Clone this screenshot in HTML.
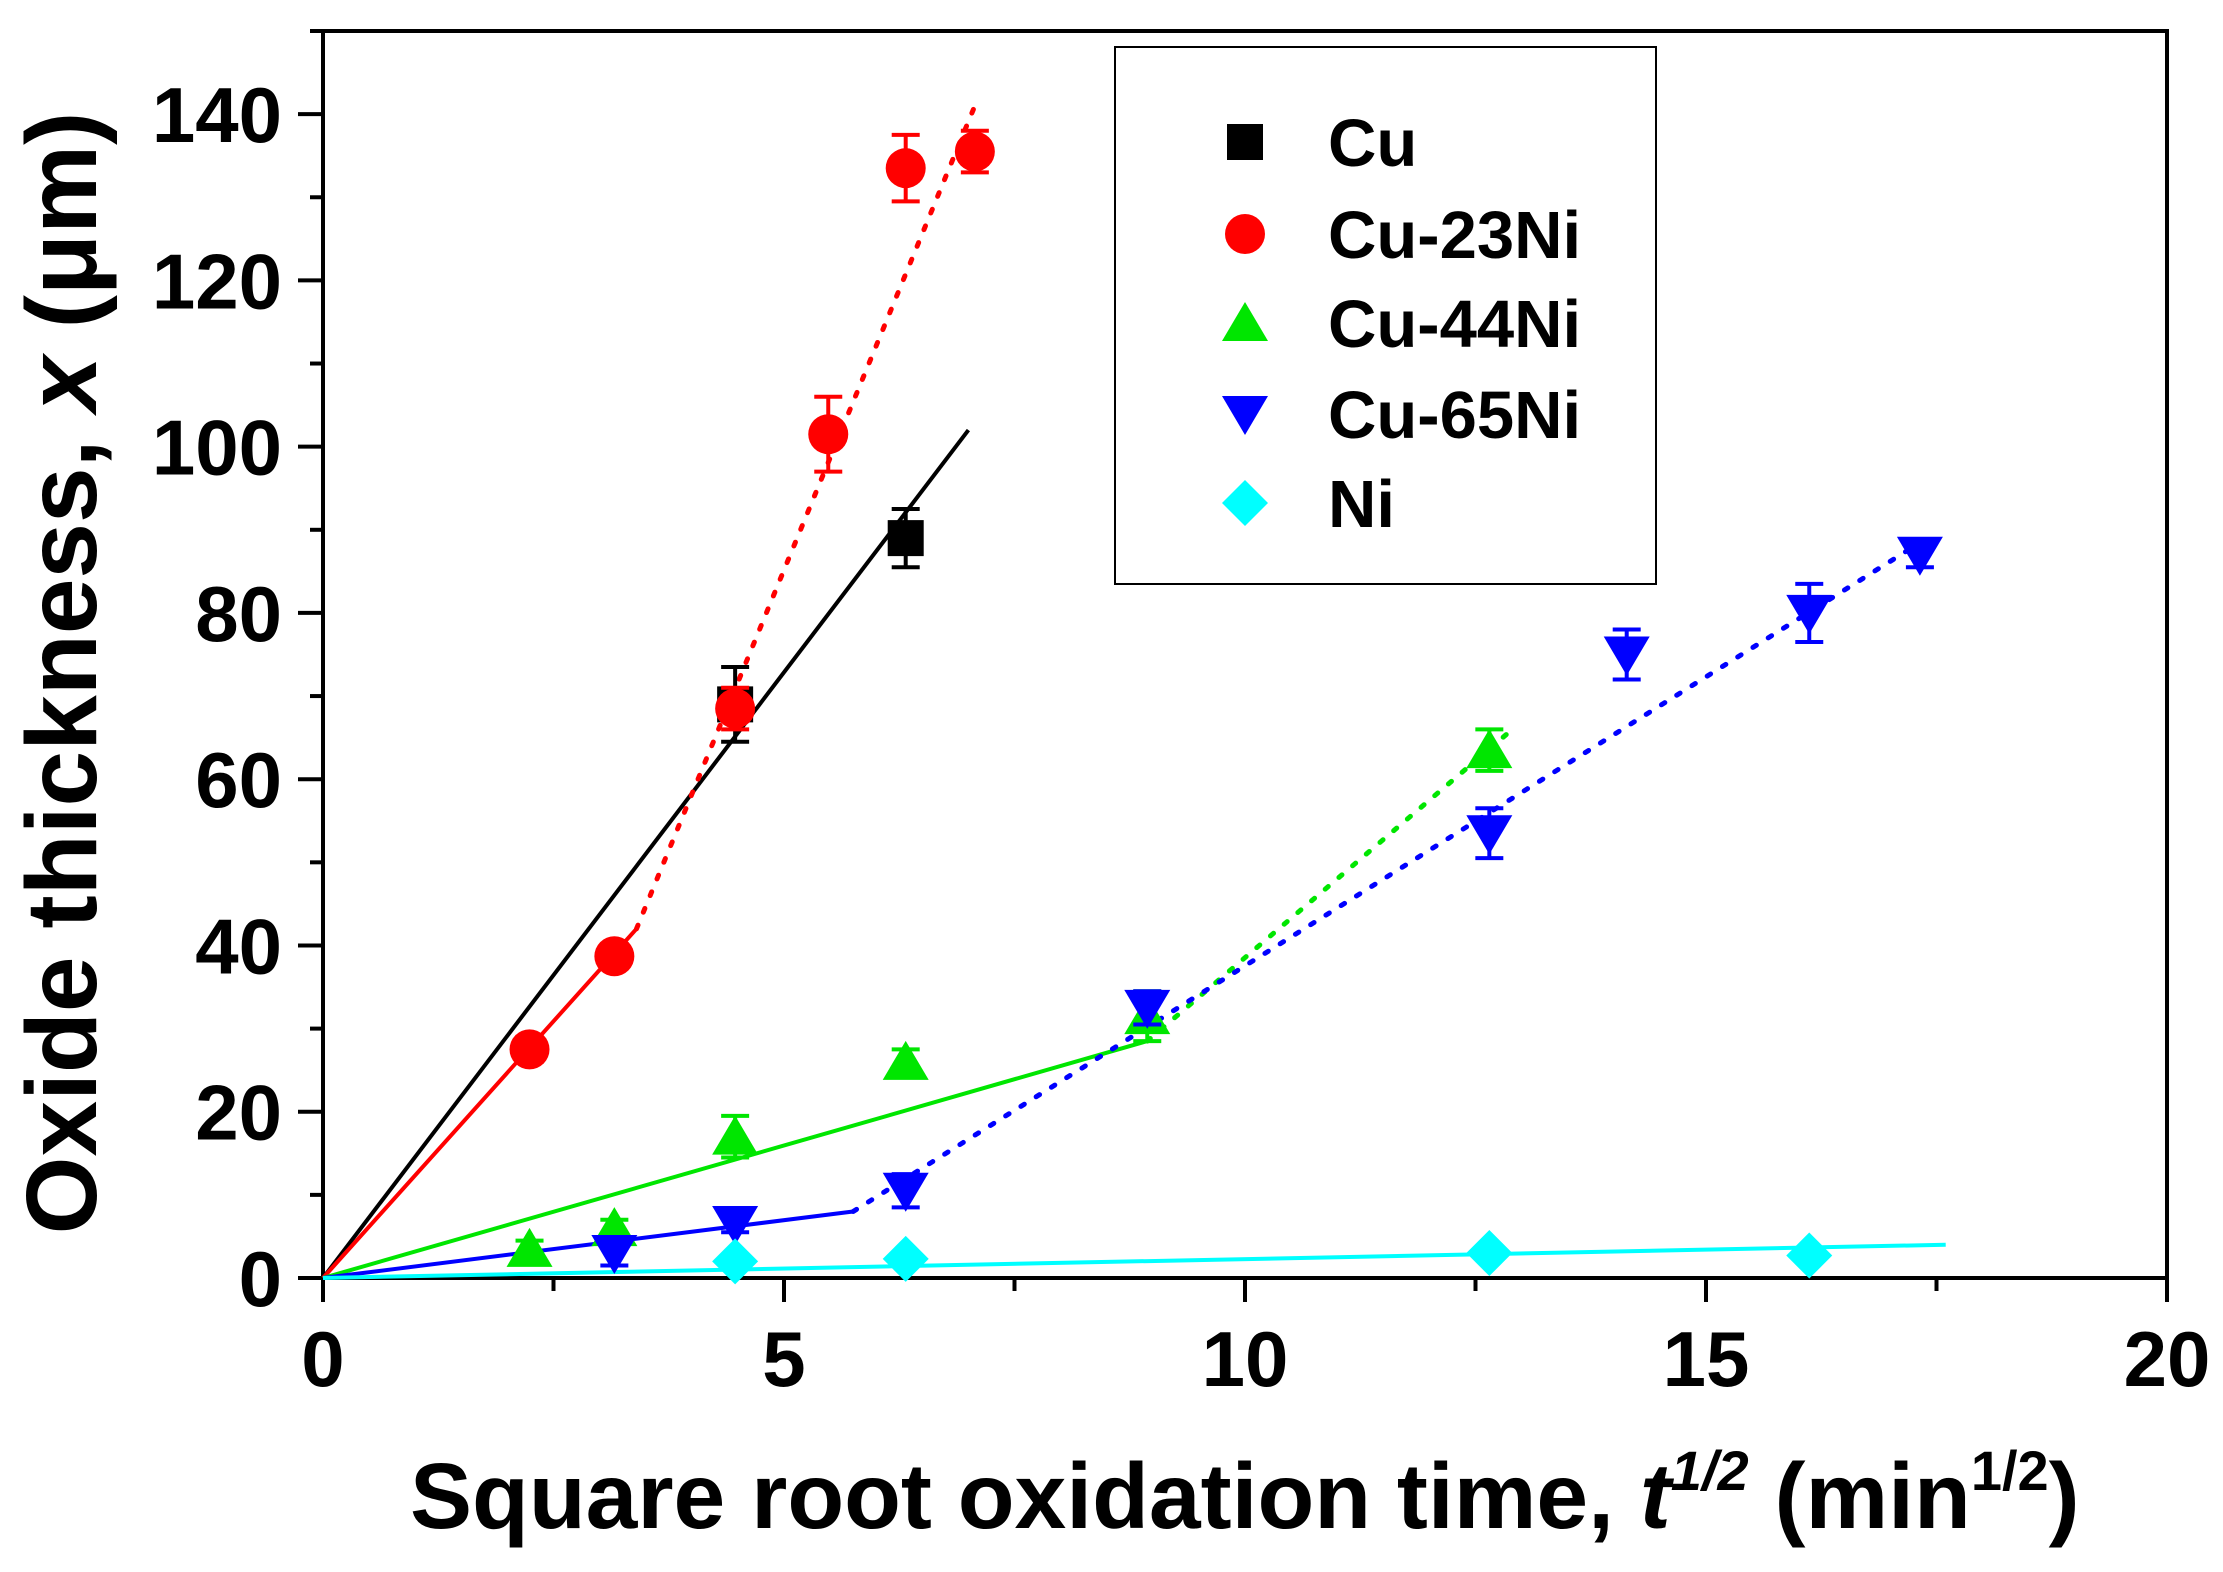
<!DOCTYPE html>
<html><head><meta charset="utf-8"><style>
html,body{margin:0;padding:0;background:#fff;}
svg{display:block;font-family:"Liberation Sans",Arial,sans-serif;font-weight:bold;}
</style></head><body>
<svg id="chart" width="2223" height="1572" viewBox="0 0 2223 1572" xmlns="http://www.w3.org/2000/svg">
<rect x="0" y="0" width="2223" height="1572" fill="#fff"/>
<g id="plot"></g>
<text x="410" y="1528" font-size="93">Square root oxidation time, <tspan font-style="italic">t</tspan><tspan font-style="italic" font-size="56" dy="-38">1/2</tspan><tspan dy="38"> (min</tspan><tspan font-size="56" dy="-38">1/2</tspan><tspan dy="38">)</tspan></text>
<text transform="translate(96,673) rotate(-90)" text-anchor="middle" font-size="100">Oxide thickness, <tspan font-style="italic">x</tspan> (μm)</text>
</svg>
<script>
const xTicks=[0,5,10,15,20];
const yTicks=[0,20,40,60,80,100,120,140];
const seriesNames=["Cu","Cu-23Ni","Cu-44Ni","Cu-65Ni","Ni"];
const seriesColors=["#000000","#ff0000","#00e600","#0000ff","#00ffff"];
const cuX=[4.47,6.32];
const cuY=[69,89];
const cuErr=[4.5,3.5];
const cu23X=[2.24,3.16,4.47,5.48,6.32,7.07];
const cu23Y=[27.5,38.7,68.5,101.5,133.5,135.5];
const cu23Err=[1.5,1,2.5,4.5,4,2.5];
const cu44X=[2.24,3.16,4.47,6.32,8.94,12.65];
const cu44Y=[3.5,6,17,26,31.5,63.5];
const cu44Err=[1,1,2.5,1.5,3,2.5];
const cu65X=[3.16,4.47,6.32,8.94,12.65,14.14,16.12,17.32];
const cu65Y=[3,6.5,10.5,32.5,53.5,75,80,87];
const cu65Err=[1.5,1,2,2,3,3,3.5,1.5];
const niX=[4.47,6.32,12.65,16.12];
const niY=[2,2.3,3,2.7];
const niErr=[0.5,0.5,0.5,0.5];
// fit lines: [x0,y0,x1,y1,dotted]
const fitCu=[[0,0,7.0,102,0]];
const fit23=[[0,0,3.4,42,0],[3.4,42,7.07,141,1]];
const fit44=[[0,0,8.94,28.5,0],[8.94,28.5,12.9,66,1]];
const fit65=[[0,0,5.75,8,0],[5.75,8,17.4,89,1]];
const fitNi=[[0,0,17.6,4,0]];

const X0=323,X1=2167,Y0=1278,Y1=31;
const sx=v=>X0+(v-0)/(20-0)*(X1-X0);
const sy=v=>Y0-(v-0)/(150-0)*(Y0-Y1);
const NS="http://www.w3.org/2000/svg";
const plot=document.getElementById('plot');
function mk(tag,attrs,parent){const e=document.createElementNS(NS,tag);for(const k in attrs)e.setAttribute(k,attrs[k]);(parent||plot).appendChild(e);return e;}

const frame=mk('rect',{x:X0,y:Y1,width:X1-X0,height:Y0-Y1,fill:'none',stroke:'#000','stroke-width':4});


for(let v=0;v<=20;v+=2.5){
  const major=(v%5===0);
  const t=mk('line',{x1:sx(v),x2:sx(v),y1:Y0,y2:Y0+(major?24:13),stroke:'#000','stroke-width':4});
  
  
}
xTicks.forEach(v=>{
  const t=mk('text',{x:sx(v),y:1386,'text-anchor':'middle','font-size':78});
  t.textContent=v;
  
  
});
for(let v=0;v<=150;v+=10){
  const major=(v%20===0);
  const t=mk('line',{x1:X0,x2:X0-(major?25:13),y1:sy(v),y2:sy(v),stroke:'#000','stroke-width':4});
  
  
}
yTicks.forEach(v=>{
  const t=mk('text',{x:282,y:sy(v)+28,'text-anchor':'end','font-size':78});
  t.textContent=v;
  
  
});

function drawFits(fits,color,name){
  fits.forEach(f=>{
    const l=mk('line',{x1:sx(f[0]),y1:sy(f[1]),x2:sx(f[2]),y2:sy(f[3]),stroke:color,'stroke-width':f[4]?5:4});
    if(f[4]){l.setAttribute('stroke-dasharray','4 14');l.setAttribute('stroke-linecap','round');}
    
    
  });
}
function marker(shape,cx,cy,color,parent){
  let e;
  if(shape==='square') e=mk('rect',{x:cx-18,y:cy-18,width:36,height:36,fill:color},parent);
  else if(shape==='circle') e=mk('circle',{cx:cx,cy:cy,r:20,fill:color},parent);
  else if(shape==='up') e=mk('polygon',{points:`${cx},${cy-21} ${cx-23},${cy+18} ${cx+23},${cy+18}`,fill:color},parent);
  else if(shape==='down') e=mk('polygon',{points:`${cx},${cy+21} ${cx-23},${cy-18} ${cx+23},${cy-18}`,fill:color},parent);
  else e=mk('polygon',{points:`${cx},${cy-23} ${cx+23},${cy} ${cx},${cy+23} ${cx-23},${cy}`,fill:color},parent);
  return e;
}
function drawSeries(xs,ys,errs,color,shape,name){
  xs.forEach((x,i)=>{
    const cx=sx(x),cy=sy(ys[i]),t=sy(ys[i]+errs[i]),b=sy(ys[i]-errs[i]);
    const eb=mk('path',{d:`M${cx},${t}V${b}M${cx-14},${t}H${cx+14}M${cx-14},${b}H${cx+14}`,stroke:color,'stroke-width':4,fill:'none'});
    
    
    const m=marker(shape,cx,cy,color);
    
    
  });
}
drawFits(fitCu,seriesColors[0],'cu');
drawFits(fit23,seriesColors[1],'cu-23ni');
drawFits(fit44,seriesColors[2],'cu-44ni');
drawFits(fit65,seriesColors[3],'cu-65ni');
drawFits(fitNi,seriesColors[4],'ni');
drawSeries(cuX,cuY,cuErr,seriesColors[0],'square','cu');
drawSeries(cu23X,cu23Y,cu23Err,seriesColors[1],'circle','cu-23ni');
drawSeries(cu44X,cu44Y,cu44Err,seriesColors[2],'up','cu-44ni');
drawSeries(cu65X,cu65Y,cu65Err,seriesColors[3],'down','cu-65ni');
drawSeries(niX,niY,niErr,seriesColors[4],'diamond','ni');

const lg=mk('g',{});


const lb=mk('rect',{x:1115,y:47,width:541,height:537,fill:'#fff',stroke:'#000','stroke-width':2},lg);


const shapes=['square','circle','up','down','diamond'];
const legY=[142,234,323,414,503];
seriesNames.forEach((n,i)=>{
  const m=marker(shapes[i],1245,legY[i],seriesColors[i],lg);
  
  
  const t=mk('text',{x:1328,y:legY[i]+24,'font-size':67},lg);
  t.textContent=n;
  
  
});
</script>
</body></html>
